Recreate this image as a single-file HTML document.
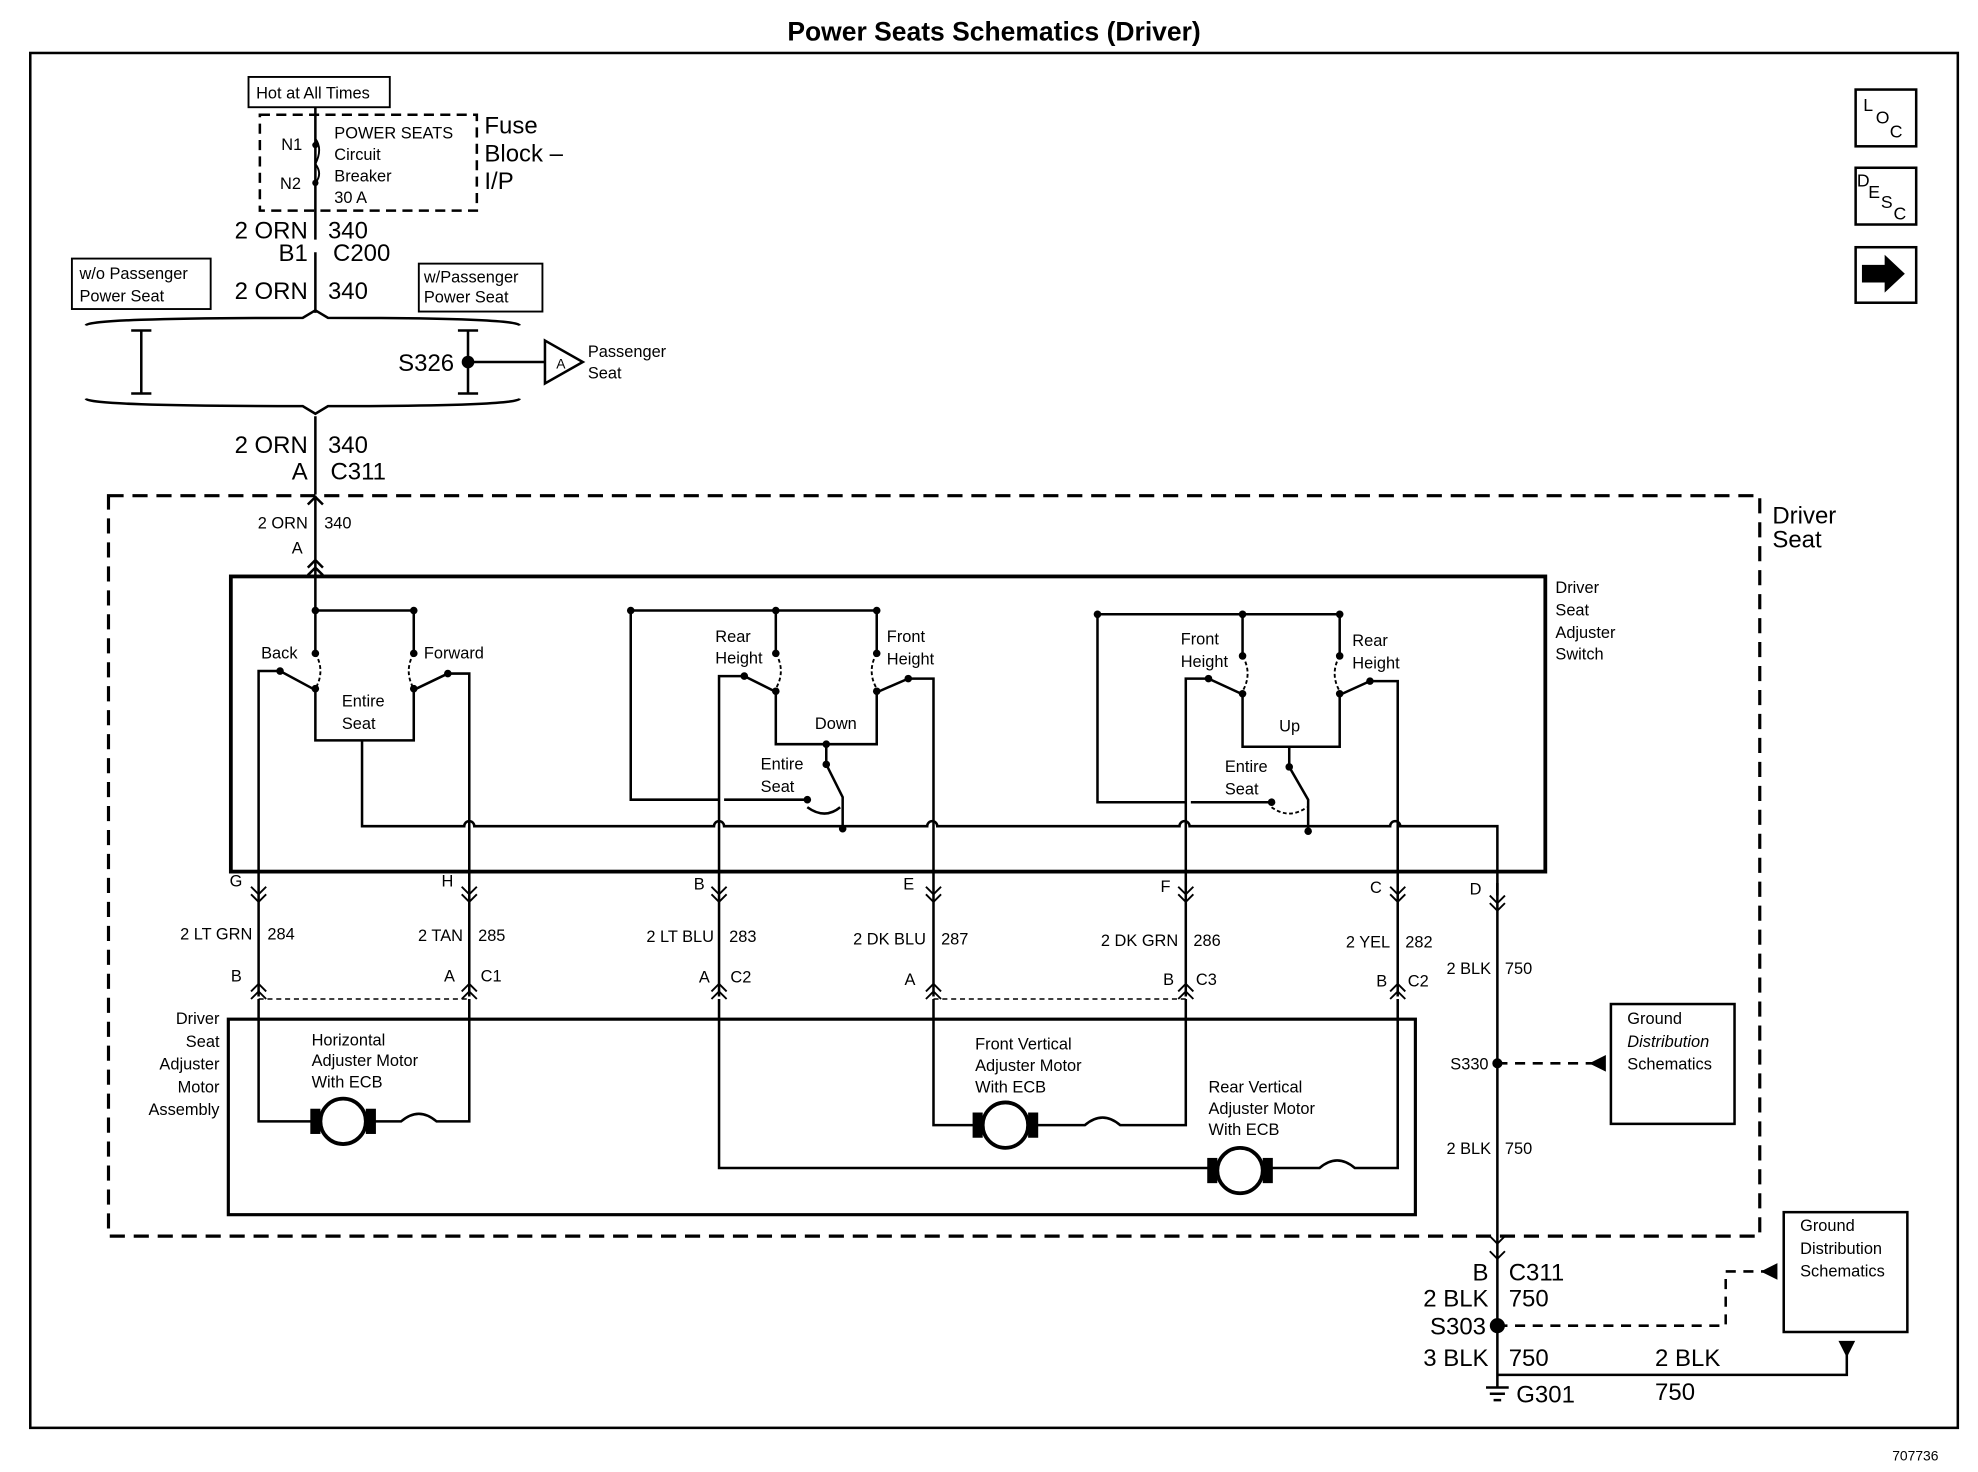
<!DOCTYPE html>
<html><head><meta charset="utf-8"><style>
html,body{margin:0;padding:0;background:#fff}
svg{display:block}
text{font-family:"Liberation Sans",Arial,sans-serif;fill:#000}
</style></head><body>
<svg width="1978" height="1472" viewBox="0 0 1568 1167" preserveAspectRatio="none" xmlns="http://www.w3.org/2000/svg">
<g stroke="#000" fill="none" stroke-width="2">
<!-- outer border -->
<rect x="24" y="42" width="1528" height="1090" stroke-width="2"/>
<!-- LOC DESC arrow -->
<rect x="1471" y="71" width="48" height="45"/><rect x="1471" y="133" width="48" height="45"/><rect x="1471" y="196" width="48" height="44"/>
<!-- hot at all times -->
<rect x="197" y="61" width="112" height="24" stroke-width="1.5"/>
<rect x="206" y="91" width="172" height="76" stroke-dasharray="8,5"/>
<path d="M250 85 V180 M250 180 V190 M250 200 V248 M250 330 V392"/>
<path d="M250 110 q6 8 0 20 q6 8 0 15" stroke-width="1.5"/>
<!-- option boxes -->
<rect x="57" y="205" width="110" height="40" stroke-width="1.5"/>
<rect x="332" y="209" width="98" height="38" stroke-width="1.5"/>
<!-- splice bracket region -->
<path d="M68 258 Q70 252 240 252 L250 246 L260 252 Q410 252 412 258"/>
<path d="M68 316 Q70 322 240 322 L250 328 L260 322 Q410 322 412 316"/>
<path d="M112 262 V312 M104 262 H120 M104 312 H120"/>
<path d="M371 262 V312 M363 262 H379 M363 312 H379"/>
<path d="M371 287 H432"/>
<path d="M432 270 L462 287 L432 304 Z"/>
<!-- driver seat dashed box -->
<rect x="86" y="393" width="1309" height="587" stroke-dasharray="12,7" stroke-width="2.5"/>
<!-- main feed -->
<path d="M250 393 V484 M244 400 L250 394 L256 400 M244 450 L250 444 L256 450 M244 456 L250 450 L256 456"/>
<!-- switch box -->
<rect x="183" y="457" width="1042" height="234" stroke-width="3"/>
<!-- buses -->
<path d="M250 484 H328 M500 484 H695 M870 487 H1062"/>
<path d="M328 484 V518 M250 484 V518 M500 484 V634 H570 M615 484 V518 M695 484 V518 M870 487 V636 H940 M985 487 V520 M1062 487 V520"/>
<!-- contacts group 1 -->
<path d="M250 518 q8 14 0 28 M328 518 q-8 14 0 28" stroke-dasharray="3,2" stroke-width="1.5"/>
<path d="M205 700 V532 H222 L248 546 M372 700 V534 H355 L330 546"/>
<path d="M250 546 V587 H328 V546"/>
<path d="M287 587 V655 H368 a4 4 0 0 1 8 0 H566 a4 4 0 0 1 8 0 H735 a4 4 0 0 1 8 0 H935 a4 4 0 0 1 8 0 H1102 a4 4 0 0 1 8 0 H1187 V710"/>
<!-- group 2 -->
<path d="M615 518 q8 14 0 28 M695 518 q-8 14 0 28" stroke-dasharray="3,2" stroke-width="1.5"/>
<path d="M570 700 V536 H590 L614 548 M740 700 V538 H720 L697 548"/>
<path d="M615 548 V590 H695 V548"/>
<path d="M655 590 V606 L668 632 V657 M640 640 q14 10 26 0" />
<path d="M640 640 q14 10 26 0" stroke-dasharray="3,2" stroke-width="1.5"/>
<path d="M574 634 H640"/>
<!-- group 3 -->
<path d="M985 520 q8 14 0 28 M1062 520 q-8 14 0 28" stroke-dasharray="3,2" stroke-width="1.5"/>
<path d="M940 700 V538 H958 L984 550 M1108 700 V540 H1086 L1064 550"/>
<path d="M985 550 V592 H1062 V550"/>
<path d="M1022 592 V608 L1037 634 V659"/>
<path d="M944 636 H1008"/>
<path d="M1008 640 q14 10 28 0" stroke-dasharray="3,2" stroke-width="1.5"/>
<!-- wires to motors -->
<path d="M205 700 V790 M372 700 V790 M570 700 V790 M740 700 V790 M940 700 V790 M1108 700 V790 M1187 700 V1100"/>
<g stroke-width="1.5">
<path d="M199 703 L205 709 L211 703 M199 709 L205 715 L211 709 M366 703 L372 709 L378 703 M366 709 L372 715 L378 709 M564 703 L570 709 L576 703 M564 709 L570 715 L576 709 M734 703 L740 709 L746 703 M734 709 L740 715 L746 709 M934 703 L940 709 L946 703 M934 709 L940 715 L946 709 M1102 703 L1108 709 L1114 703 M1102 709 L1108 715 L1114 709 M1181 710 L1187 716 L1193 710 M1181 716 L1187 722 L1193 716"/>
<path d="M199 786 L205 780 L211 786 M199 792 L205 786 L211 792 M366 786 L372 780 L378 786 M366 792 L372 786 L378 792 M564 786 L570 780 L576 786 M564 792 L570 786 L576 792 M734 786 L740 780 L746 786 M734 792 L740 786 L746 792 M934 786 L940 780 L946 786 M934 792 L940 786 L946 792 M1102 786 L1108 780 L1114 786 M1102 792 L1108 786 L1114 792"/>
<path d="M1181 980 L1187 986 L1193 980 M1181 992 L1187 998 L1193 992"/>
</g>
<path d="M205 792 H372 M740 792 H940" stroke-dasharray="4,3" stroke-width="1.2"/>
<!-- motor box -->
<rect x="181" y="808" width="941" height="155" stroke-width="2.5"/>
<path d="M205 792 V889 H248 M296 889 H318 q14 -12 28 0 H372 V792"/>
<path d="M570 792 V926 H960 M1006 926 H1046 q14 -12 28 0 H1108 V792"/>
<path d="M740 792 V892 H775 M820 892 H860 q14 -12 28 0 H940 V792"/>
<circle cx="272" cy="889" r="18" stroke-width="3"/>
<rect x="247" y="880" width="6" height="18" fill="#000"/><rect x="291" y="880" width="6" height="18" fill="#000"/>
<circle cx="797" cy="892" r="18" stroke-width="3"/>
<rect x="772" y="883" width="6" height="18" fill="#000"/><rect x="816" y="883" width="6" height="18" fill="#000"/>
<circle cx="983" cy="928" r="18" stroke-width="3"/>
<rect x="958" y="919" width="6" height="18" fill="#000"/><rect x="1002" y="919" width="6" height="18" fill="#000"/>
<!-- ground distribution -->
<rect x="1277" y="796" width="98" height="95" stroke-width="2"/>
<path d="M1187 843 H1265" stroke-dasharray="8,6"/>
<path d="M1262 843 L1272 838 L1272 848 Z" fill="#000"/>
<rect x="1414" y="961" width="98" height="95" stroke-width="2"/>
<path d="M1187 1051 H1368 V1008 H1400" stroke-dasharray="8,6"/>
<path d="M1398 1008 L1408 1003 L1408 1013 Z" fill="#000"/>
<path d="M1187 1090 H1464 V1070"/>
<path d="M1459 1064 H1469 L1464 1074 Z" fill="#000"/>
<path d="M1178 1100 H1196 M1181 1105 H1193 M1184 1110 H1190"/>
</g>
<g fill="#000">
<circle cx="250" cy="484" r="3"/><circle cx="328" cy="484" r="3"/><circle cx="500" cy="484" r="3"/><circle cx="615" cy="484" r="3"/><circle cx="695" cy="484" r="3"/>
<circle cx="870" cy="487" r="3"/><circle cx="985" cy="487" r="3"/><circle cx="1062" cy="487" r="3"/>
<circle cx="250" cy="518" r="3"/><circle cx="328" cy="518" r="3"/><circle cx="615" cy="518" r="3"/><circle cx="695" cy="518" r="3"/><circle cx="985" cy="520" r="3"/><circle cx="1062" cy="520" r="3"/>
<circle cx="250" cy="546" r="3"/><circle cx="328" cy="546" r="3"/><circle cx="615" cy="548" r="3"/><circle cx="695" cy="548" r="3"/><circle cx="985" cy="550" r="3"/><circle cx="1062" cy="550" r="3"/>
<circle cx="222" cy="532" r="3"/><circle cx="355" cy="534" r="3"/><circle cx="590" cy="536" r="3"/><circle cx="720" cy="538" r="3"/><circle cx="958" cy="538" r="3"/><circle cx="1086" cy="540" r="3"/>
<circle cx="655" cy="590" r="3"/><circle cx="655" cy="606" r="3"/><circle cx="640" cy="634" r="3"/><circle cx="668" cy="657" r="3"/>
<circle cx="1022" cy="608" r="3"/><circle cx="1008" cy="636" r="3"/><circle cx="1037" cy="659" r="3"/>
<circle cx="371" cy="287" r="5"/><circle cx="1187" cy="843" r="4"/><circle cx="1187" cy="1051" r="6"/>
<circle cx="250" cy="115" r="2.5"/><circle cx="250" cy="145" r="2.5"/>
<path d="M1476 210 H1494 V202 L1510 217 L1494 232 V224 H1476 Z"/>
</g>
<g font-size="21" font-weight="bold"><text x="788" y="32" text-anchor="middle">Power Seats Schematics (Driver)</text></g>
<g font-size="13">
<text x="203" y="78">Hot at All Times</text>
<text x="223" y="119">N1</text><text x="222" y="150">N2</text>
<text x="265" y="110">POWER SEATS</text><text x="265" y="127">Circuit</text><text x="265" y="144">Breaker</text><text x="265" y="161">30 A</text>
<text x="63" y="221">w/o Passenger</text><text x="63" y="239">Power Seat</text>
<text x="336" y="224">w/Passenger</text><text x="336" y="240">Power Seat</text>
<text x="466" y="283">Passenger</text><text x="466" y="300">Seat</text>
<text x="441" y="292" font-size="11">A</text>
<text x="244" y="419" text-anchor="end">2 ORN</text><text x="257" y="419">340</text><text x="240" y="439" text-anchor="end">A</text>
<text x="1233" y="470">Driver</text><text x="1233" y="488">Seat</text><text x="1233" y="506">Adjuster</text><text x="1233" y="523">Switch</text>
<text x="207" y="522">Back</text><text x="336" y="522">Forward</text>
<text x="271" y="560">Entire</text><text x="271" y="578">Seat</text>
<text x="567" y="509">Rear</text><text x="567" y="526">Height</text>
<text x="703" y="509">Front</text><text x="703" y="527">Height</text>
<text x="646" y="578">Down</text>
<text x="603" y="610">Entire</text><text x="603" y="628">Seat</text>
<text x="936" y="511">Front</text><text x="936" y="529">Height</text>
<text x="1072" y="512">Rear</text><text x="1072" y="530">Height</text>
<text x="1014" y="580">Up</text>
<text x="971" y="612">Entire</text><text x="971" y="630">Seat</text>
<text x="182" y="703">G</text><text x="350" y="703">H</text><text x="550" y="705">B</text><text x="716" y="705">E</text><text x="920" y="707">F</text><text x="1086" y="708">C</text><text x="1165" y="709">D</text>
<text x="200" y="745" text-anchor="end">2 LT GRN</text><text x="212" y="745">284</text>
<text x="367" y="746" text-anchor="end">2 TAN</text><text x="379" y="746">285</text>
<text x="566" y="747" text-anchor="end">2 LT BLU</text><text x="578" y="747">283</text>
<text x="734" y="749" text-anchor="end">2 DK BLU</text><text x="746" y="749">287</text>
<text x="934" y="750" text-anchor="end">2 DK GRN</text><text x="946" y="750">286</text>
<text x="1102" y="751" text-anchor="end">2 YEL</text><text x="1114" y="751">282</text>
<text x="1182" y="772" text-anchor="end">2 BLK</text><text x="1193" y="772">750</text>
<text x="183" y="778">B</text><text x="352" y="778">A</text><text x="381" y="778">C1</text>
<text x="554" y="779">A</text><text x="579" y="779">C2</text>
<text x="717" y="781">A</text><text x="922" y="781">B</text><text x="948" y="781">C3</text>
<text x="1091" y="782">B</text><text x="1116" y="782">C2</text>
<text x="174" y="812" text-anchor="end">Driver</text><text x="174" y="830" text-anchor="end">Seat</text><text x="174" y="848" text-anchor="end">Adjuster</text><text x="174" y="866" text-anchor="end">Motor</text><text x="174" y="884" text-anchor="end">Assembly</text>
<text x="247" y="829">Horizontal</text><text x="247" y="845">Adjuster Motor</text><text x="247" y="862">With ECB</text>
<text x="773" y="832">Front Vertical</text><text x="773" y="849">Adjuster Motor</text><text x="773" y="866">With ECB</text>
<text x="958" y="866">Rear Vertical</text><text x="958" y="883">Adjuster Motor</text><text x="958" y="900">With ECB</text>
<text x="1180" y="848" text-anchor="end">S330</text>
<text x="1182" y="915" text-anchor="end">2 BLK</text><text x="1193" y="915">750</text>
<text x="1290" y="812">Ground</text><text x="1290" y="830" font-style="italic">Distribution</text><text x="1290" y="848">Schematics</text>
<text x="1427" y="976">Ground</text><text x="1427" y="994">Distribution</text><text x="1427" y="1012">Schematics</text>
<text x="1500" y="1158" font-size="11">707736</text>
</g>
<g font-size="19">
<text x="384" y="106">Fuse</text><text x="384" y="128">Block –</text><text x="384" y="150">I/P</text>
<text x="244" y="189" text-anchor="end">2 ORN</text><text x="260" y="189">340</text>
<text x="244" y="207" text-anchor="end">B1</text><text x="264" y="207">C200</text>
<text x="244" y="237" text-anchor="end">2 ORN</text><text x="260" y="237">340</text>
<text x="360" y="294" text-anchor="end">S326</text>
<text x="244" y="359" text-anchor="end">2 ORN</text><text x="260" y="359">340</text>
<text x="244" y="380" text-anchor="end">A</text><text x="262" y="380">C311</text>
<text x="1405" y="415">Driver</text><text x="1405" y="434">Seat</text>
<text x="1180" y="1015" text-anchor="end">B</text><text x="1196" y="1015">C311</text>
<text x="1180" y="1036" text-anchor="end">2 BLK</text><text x="1196" y="1036">750</text>
<text x="1178" y="1058" text-anchor="end">S303</text>
<text x="1180" y="1083" text-anchor="end">3 BLK</text><text x="1196" y="1083">750</text>
<text x="1312" y="1083">2 BLK</text><text x="1312" y="1110">750</text>
<text x="1202" y="1112">G301</text>
<text x="1477" y="88" font-size="14">L</text><text x="1487" y="98" font-size="14">O</text><text x="1498" y="109" font-size="14">C</text>
<text x="1472" y="148" font-size="14">D</text><text x="1481" y="157" font-size="14">E</text><text x="1491" y="165" font-size="14">S</text><text x="1501" y="174" font-size="14">C</text>
</g>
</svg>
</body></html>
